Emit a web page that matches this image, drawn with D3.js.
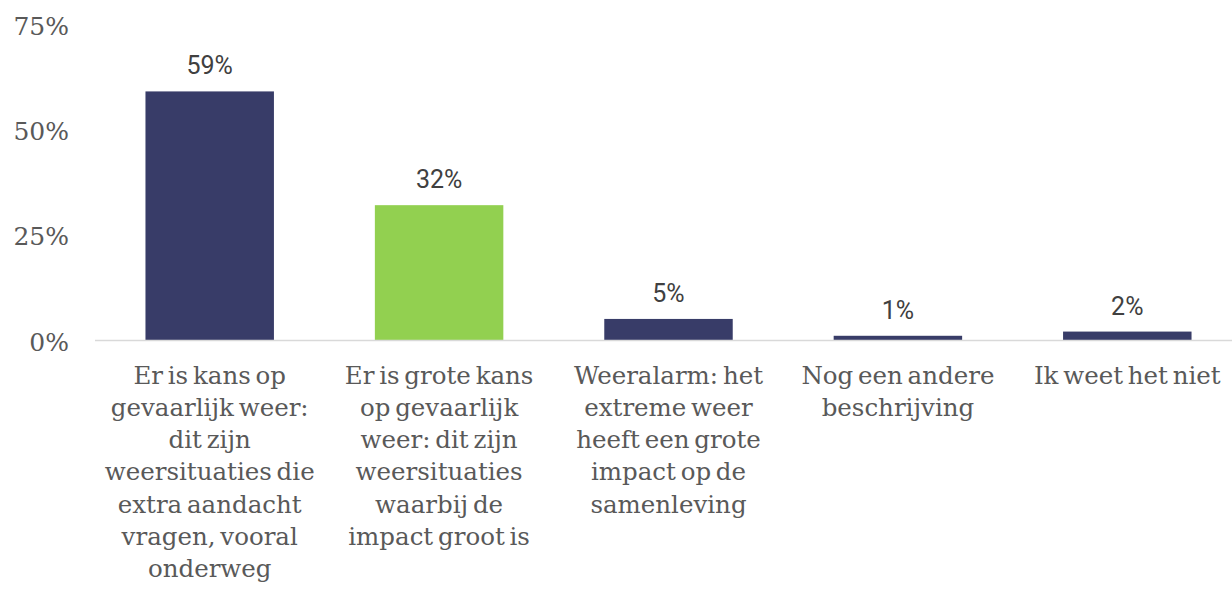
<!DOCTYPE html>
<html><head><meta charset="utf-8">
<script src="https://cdn.jsdelivr.net/npm/d3@7"></script>
<style>body{margin:0;background:#fff}svg{display:block}</style>
</head><body>
<svg id="c" width="1232" height="594"></svg>
<script>
const categories = [
  "Er is kans op|gevaarlijk weer:|dit zijn|weersituaties die|extra aandacht|vragen, vooral|onderweg",
  "Er is grote kans|op gevaarlijk|weer: dit zijn|weersituaties|waarbij de|impact groot is",
  "Weeralarm: het|extreme weer|heeft een grote|impact op de|samenleving",
  "Nog een andere|beschrijving",
  "Ik weet het niet"
];
const values = [59, 32, 5, 1, 2];
const valueLabels = ["59%", "32%", "5%", "1%", "2%"];
const barColors = ["#383c68", "#92d050", "#383c68", "#383c68", "#383c68"];
const yTicks = [0, 25, 50, 75];

const svg = d3.select("#c");
const x = d3.scaleBand().domain(categories).range([95, 1242]).paddingInner(0.44).paddingOuter(0.22);
const y = d3.scaleLinear().domain([0, 75]).range([340, 24]);

const serif = "'DejaVu Serif', serif";

// y tick labels
svg.append("g").selectAll("text").data(yTicks).join("text")
  .attr("x", 69).attr("y", d => y(d) + 2).attr("dy", "0.35em")
  .attr("text-anchor", "end").attr("fill", "#595959")
  .style("font-family", serif).style("font-size", "25px")
  .text(d => d + "%");

// bars
svg.append("g").selectAll("rect").data(values).join("rect")
  .attr("x", (d, i) => x(categories[i])).attr("width", x.bandwidth())
  .attr("y", d => y(d)).attr("height", d => y(0) - y(d))
  .attr("fill", (d, i) => barColors[i]);

// axis line
svg.append("line").attr("x1", 95).attr("x2", 1232).attr("y1", y(0) + 0.5).attr("y2", y(0) + 0.5)
  .attr("stroke", "#d9d9d9").attr("stroke-width", 1.5);

// value labels
svg.append("g").selectAll("text").data(values).join("text")
  .attr("x", (d, i) => x(categories[i]) + x.bandwidth() / 2)
  .attr("y", d => y(d) - 17)
  .attr("text-anchor", "middle").attr("fill", "#404040")
  .style("font-family", "Roboto, sans-serif").style("font-size", "25px")
  .text((d, i) => valueLabels[i]);

// category labels
const lab = svg.append("g").selectAll("text").data(categories).join("text")
  .attr("text-anchor", "middle").attr("fill", "#595959")
  .style("font-family", serif).style("font-size", "24.5px").style("word-spacing", "-3px")
  .attr("transform", d => `translate(${x(d) + x.bandwidth() / 2},${375})`);
lab.selectAll("tspan").data(d => d.split("|")).join("tspan")
  .attr("x", 0).attr("y", (d, i) => i * 32.3).attr("dy", "0.35em").text(d => d);
</script>
</body></html>
